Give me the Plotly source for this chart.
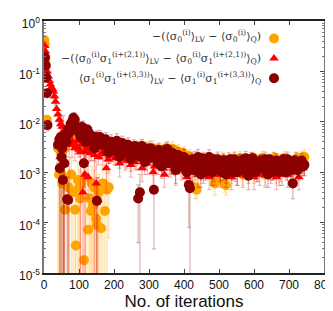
import plotly.graph_objects as go
import numpy as np

# ---------------- data (values in units of 1e-3) ----------------
x_band = list(range(40, 745, 8))
x_band2 = list(range(44, 741, 8))

# <sigma_0> (orange circles)
x_or_early = [1, 2, 4, 8]
y_or_early = [420, 350, 160, 11]
e_or_early = [40, 40, 20, 2]
y_or_band = [3.0, 2.5, 4.0, 3.5, 5.0, 6.0, 5.0, 4.5, 3.5, 4.0,
             3.0, 4.5, 3.8, 4.2, 3.5, 3.8, 3.2, 3.6, 3.0, 3.4,
             2.8, 3.3, 2.6, 3.1, 2.5, 3.0, 2.4, 2.9, 2.3, 2.8,
             3.1, 2.2, 2.9, 2.4, 3.0, 2.0, 2.7, 2.2, 2.6, 2.8,
             2.7, 2.9, 2.2, 2.5, 1.8, 2.3, 1.5, 2.0, 1.2, 0.5,
             1.6, 1.0, 1.8, 1.3, 1.7, 1.1, 0.6, 1.5, 1.2, 1.8,
             0.55, 1.4, 1.0, 1.7, 1.2, 1.9, 0.9, 1.5, 1.2, 1.8,
             1.0, 1.6, 1.3, 1.9, 0.9, 1.5, 1.2, 1.8, 1.0, 1.6,
             1.3, 1.9, 1.1, 1.5, 1.2, 1.8, 1.4, 1.9, 2.0]
e_or_band = [3.2, 1.5, 2.0, 1.5, 2.0, 2.5, 2.0, 1.8, 1.5, 1.6,
             3.5, 1.8, 1.5, 1.7, 1.4, 1.5, 1.3, 1.4, 1.2, 1.3,
             1.1, 1.3, 1.0, 1.2, 1.0, 1.2, 1.0, 1.1, 0.9, 1.1,
             1.2, 0.9, 1.1, 1.0, 1.2, 0.8, 1.0, 0.9, 1.0, 1.1,
             1.0, 1.1, 0.9, 1.0, 0.7, 0.9, 0.6, 0.8, 0.5, 0.2,
             0.6, 0.4, 0.7, 0.5, 0.7, 0.4, 0.25, 0.6, 0.5, 0.7,
             0.2, 0.5, 0.4, 0.7, 0.5, 0.7, 0.35, 0.6, 0.5, 0.7,
             0.4, 0.6, 0.5, 0.7, 0.35, 0.6, 0.5, 0.7, 0.4, 0.6,
             0.5, 0.7, 0.4, 0.6, 0.5, 0.7, 0.5, 0.7, 0.8]
y_or_band2 = [3.5, 4.5, 3.0, 5.5, 6.5, 5.5, 4.0, 5.0, 4.5, 3.6,
              4.0, 3.2, 4.4, 3.6, 4.0, 3.3, 3.8, 2.9, 3.5, 3.1,
              3.4, 2.7, 3.2, 2.6, 3.1, 2.5, 3.0, 2.4, 2.9, 3.0,
              2.6, 3.1, 2.3, 2.9, 2.5, 2.8, 2.1, 2.7, 3.0, 2.5,
              2.8, 2.3, 2.6, 2.0, 2.4, 1.7, 2.1, 1.4, 1.8, 0.45,
              1.3, 1.7, 1.1, 1.5, 1.2, 1.8, 0.7, 1.4, 1.6, 0.6,
              1.5, 1.1, 1.8, 1.3, 1.6, 1.0, 1.7, 1.2, 1.5, 1.9,
              1.1, 1.7, 1.4, 1.8, 1.0, 1.6, 1.3, 1.9, 1.1, 1.7,
              1.4, 1.8, 1.2, 1.6, 1.3, 1.9, 1.5, 2.0]
e_or_band2 = [1.0, 1.2, 0.8, 1.5, 1.7, 1.5, 1.0, 1.3, 1.2, 1.0,
              1.0, 0.8, 1.1, 0.9, 1.0, 0.8, 1.0, 0.7, 0.9, 0.8,
              0.9, 0.7, 0.8, 0.7, 0.8, 0.6, 0.8, 0.6, 0.7, 0.8,
              0.7, 0.8, 0.6, 0.7, 0.6, 0.7, 0.5, 0.7, 0.8, 0.6,
              0.7, 0.6, 0.7, 0.5, 0.6, 0.45, 0.5, 0.4, 0.5, 0.15,
              0.35, 0.45, 0.3, 0.4, 0.3, 0.45, 0.2, 0.35, 0.4, 0.2,
              0.4, 0.3, 0.45, 0.35, 0.4, 0.25, 0.45, 0.3, 0.4, 0.5,
              0.3, 0.45, 0.35, 0.45, 0.25, 0.4, 0.35, 0.5, 0.3, 0.45,
              0.35, 0.45, 0.3, 0.4, 0.35, 0.5, 0.4, 0.5]
x_or_dip = [43, 48, 52, 56, 60, 70, 78, 83, 89, 91, 97, 100, 103, 106, 114, 118,
            126, 131, 134, 137, 140, 143, 149, 151, 157, 163, 168, 174, 180, 185]
y_or_dip = [0.9, 1.0, 0.6, 0.8, 0.18, 0.5, 0.9, 0.4, 0.18, 0.035, 0.7, 0.5, 0.3, 0.6, 0.018, 0.8,
            0.072, 0.3, 0.17, 0.6, 0.22, 0.5, 0.12, 0.09, 0.4, 0.077, 0.6, 0.17, 0.45, 0.5]
e_or_dip = [1.5, 1.2, 0.8, 1.0, 0.5, 0.6, 1.0, 0.5, 0.3, 0.4, 0.9, 0.6, 0.4, 1.0, 0.3, 1.0,
            0.3, 0.5, 0.4, 0.7, 0.4, 0.6, 0.3, 0.3, 0.5, 0.3, 0.7, 0.4, 0.5, 0.45]

# <sigma_0 sigma_1^(2,1)> (red triangles)
x_rd_early = [2, 4, 6, 9, 12, 15, 18, 21, 24, 27, 30, 33, 36]
y_rd_early = [320, 250, 150, 100, 80, 65, 55, 48, 45, 40, 32, 25, 18]
e_rd_early = [30, 25, 15, 10, 8, 6, 6, 5, 5, 4, 4, 4, 4]
y_rd_band = [14, 9.0, 6.5, 4.8, 4.0, 3.5, 3.0, 4.2, 2.5, 3.8,
             3.5, 2.9, 3.0, 2.2, 3.4, 3.2, 2.5, 3.0, 1.8, 2.8,
             2.4, 3.0, 1.5, 2.6, 2.0, 2.8, 1.4, 2.4, 2.0, 2.6,
             1.2, 2.2, 1.7, 2.5, 1.0, 2.0, 1.6, 2.3, 0.9, 1.9,
             1.4, 2.1, 1.0, 1.7, 1.3, 2.0, 0.8, 1.6, 1.2, 1.8,
             0.9, 1.5, 1.1, 1.7, 0.8, 1.4, 1.0, 1.6, 0.9, 1.4,
             1.1, 1.7, 0.8, 1.3, 1.0, 1.6, 0.9, 1.4, 1.1, 1.7,
             0.8, 1.3, 1.0, 1.6, 0.9, 1.4, 1.1, 1.7, 0.8, 1.3,
             1.0, 1.6, 0.9, 1.4, 1.1, 1.7, 0.8, 1.3, 1.5]
e_rd_band = [4.0, 3.0, 7.0, 2.0, 5.0, 1.5, 1.3, 1.8, 3.0, 1.6,
             1.5, 1.3, 1.3, 2.5, 1.5, 1.4, 1.1, 1.3, 0.8, 1.2,
             1.0, 1.3, 0.7, 1.1, 0.9, 1.2, 0.6, 1.0, 0.9, 1.1,
             0.55, 1.0, 0.8, 1.1, 0.45, 0.9, 0.7, 1.0, 0.4, 0.8,
             0.6, 0.9, 0.45, 0.7, 0.6, 0.9, 0.35, 0.7, 0.55, 0.8,
             0.4, 0.65, 0.5, 0.75, 0.35, 0.6, 0.45, 0.7, 0.4, 0.6,
             0.5, 0.75, 0.35, 0.55, 0.45, 0.7, 0.4, 0.6, 0.5, 0.75,
             0.35, 0.55, 0.45, 0.7, 0.4, 0.6, 0.5, 0.75, 0.35, 0.55,
             0.45, 0.7, 0.4, 0.6, 0.5, 0.75, 0.35, 0.55, 0.65]
y_rd_band2 = [11, 8.0, 6.0, 5.0, 4.5, 3.8, 3.2, 2.8, 3.6, 2.6,
              3.3, 2.4, 3.1, 2.7, 2.0, 3.0, 2.3, 2.7, 2.1, 2.9,
              1.9, 2.6, 2.2, 2.8, 1.7, 2.5, 2.1, 1.6, 2.4, 1.9,
              2.3, 1.5, 2.1, 1.8, 1.3, 2.2, 1.7, 1.2, 2.0, 1.5,
              1.8, 1.2, 1.9, 1.4, 1.1, 1.7, 1.3, 1.0, 1.6, 1.2,
              1.7, 1.0, 1.4, 1.2, 1.6, 0.9, 1.3, 1.1, 1.5, 1.0,
              1.4, 1.2, 1.6, 0.9, 1.3, 1.1, 1.5, 1.0, 1.4, 1.2,
              1.6, 0.9, 1.3, 1.1, 1.5, 1.0, 1.4, 1.2, 1.6, 0.9,
              1.3, 1.1, 1.5, 1.0, 1.4, 1.2, 1.6, 1.2]
e_rd_band2 = [3.0, 2.0, 1.5, 1.3, 1.2, 1.0, 0.9, 0.8, 1.0, 0.7,
              0.9, 0.7, 0.8, 0.7, 0.6, 0.8, 0.6, 0.7, 0.6, 0.8,
              0.5, 0.7, 0.6, 0.7, 0.5, 0.7, 0.6, 0.45, 0.6, 0.5,
              0.6, 0.4, 0.55, 0.5, 0.35, 0.6, 0.45, 0.35, 0.5, 0.4,
              0.5, 0.35, 0.5, 0.4, 0.3, 0.45, 0.35, 0.3, 0.45, 0.35,
              0.45, 0.3, 0.4, 0.35, 0.45, 0.25, 0.35, 0.3, 0.4, 0.3,
              0.4, 0.35, 0.45, 0.25, 0.35, 0.3, 0.4, 0.3, 0.4, 0.35,
              0.45, 0.25, 0.35, 0.3, 0.4, 0.3, 0.4, 0.35, 0.45, 0.25,
              0.35, 0.3, 0.4, 0.3, 0.4, 0.35, 0.45, 0.35]
x_rd_dip = [46, 57, 111, 117, 126, 149, 154, 178]
y_rd_dip = [2.0, 1.4, 0.4, 0.9, 0.8, 0.6, 0.28, 1.2]
e_rd_dip = [3.0, 2.0, 0.6, 1.2, 0.5, 1.0, 0.5, 0.8]

# <sigma_1 sigma_1^(3,3)> (dark red circles)
x_dr_early = [3, 5, 6, 8, 10]
y_dr_early = [190, 130, 77, 37, 8.6]
e_dr_early = [20, 12, 8, 4, 2]
y_dr_band = [3.5, 5.0, 4.2, 4.0, 6.0, 10.0, 11.0, 7.0, 5.0, 7.5,
             4.0, 6.0, 4.5, 3.0, 4.8, 5.0, 3.5, 4.5, 2.5, 4.0,
             3.0, 4.2, 2.0, 3.8, 2.8, 3.5, 1.8, 3.2, 2.5, 3.0,
             3.3, 1.6, 2.6, 3.0, 2.0, 2.2, 2.8, 1.3, 2.5, 2.9,
             1.5, 2.4, 1.1, 2.2, 1.6, 2.0, 1.0, 1.4, 1.8, 1.2,
             2.0, 0.9, 1.6, 1.3, 2.0, 1.0, 1.5, 1.8, 1.1, 1.7,
             0.9, 1.5, 1.2, 1.8, 1.0, 1.6, 1.3, 1.9, 0.85, 1.5,
             1.7, 1.1, 1.6, 1.3, 1.8, 0.9, 1.5, 1.2, 1.7, 1.0,
             1.6, 1.3, 1.8, 1.1, 1.4, 1.5, 1.2, 1.7, 1.4]
e_dr_band = [2.0, 2.5, 2.0, 2.0, 2.5, 3.5, 4.0, 2.5, 2.0, 2.8,
             1.6, 2.2, 1.7, 1.3, 1.8, 1.8, 1.4, 1.6, 1.0, 1.5,
             1.2, 1.6, 0.8, 1.4, 1.1, 1.3, 0.75, 1.2, 1.0, 1.1,
             1.2, 0.7, 1.0, 1.1, 0.8, 0.9, 1.0, 0.55, 0.95, 1.1,
             0.6, 0.9, 0.5, 0.85, 0.6, 0.8, 0.45, 0.6, 0.7, 0.5,
             0.8, 0.4, 0.6, 0.5, 0.8, 0.45, 0.6, 0.7, 0.45, 0.65,
             0.4, 0.6, 0.5, 0.7, 0.45, 0.6, 0.5, 0.7, 0.4, 0.6,
             0.65, 0.45, 0.6, 0.5, 0.7, 0.4, 0.6, 0.5, 0.65, 0.45,
             0.6, 0.5, 0.7, 0.45, 0.55, 0.6, 0.5, 0.65, 0.55]
y_dr_band2 = [4.5, 3.0, 5.5, 7.0, 9.0, 12.0, 8.0, 6.0, 8.0, 6.5,
              7.0, 5.5, 4.0, 5.0, 4.2, 4.5, 3.8, 4.0, 3.2, 3.6,
              2.6, 3.8, 3.2, 2.4, 3.4, 2.9, 2.2, 3.3, 2.7, 2.0,
              3.0, 2.4, 1.9, 2.8, 2.2, 1.6, 2.5, 2.0, 1.5, 2.3,
              1.8, 2.1, 1.5, 2.0, 1.3, 1.8, 1.4, 1.6, 1.1, 1.7,
              1.4, 1.9, 1.0, 1.6, 1.3, 1.8, 1.2, 1.5, 1.0, 1.7,
              1.3, 1.8, 1.0, 1.5, 1.2, 1.7, 1.1, 1.6, 1.3, 1.9,
              1.0, 1.4, 1.7, 1.2, 1.5, 1.8, 1.0, 1.4, 1.6, 1.2,
              1.8, 1.0, 1.5, 1.3, 1.7, 1.1, 1.6, 1.3]
e_dr_band2 = [1.2, 0.8, 1.4, 1.8, 2.2, 3.0, 2.0, 1.5, 2.0, 1.6,
              1.8, 1.4, 1.0, 1.3, 1.1, 1.1, 1.0, 1.0, 0.8, 0.9,
              0.7, 1.0, 0.8, 0.6, 0.9, 0.7, 0.6, 0.8, 0.7, 0.5,
              0.8, 0.6, 0.5, 0.7, 0.6, 0.4, 0.6, 0.5, 0.4, 0.6,
              0.45, 0.5, 0.4, 0.5, 0.35, 0.45, 0.35, 0.4, 0.3, 0.45,
              0.35, 0.5, 0.3, 0.4, 0.35, 0.45, 0.3, 0.4, 0.3, 0.45,
              0.35, 0.45, 0.3, 0.4, 0.3, 0.45, 0.3, 0.4, 0.35, 0.5,
              0.3, 0.35, 0.45, 0.3, 0.4, 0.45, 0.3, 0.35, 0.4, 0.3,
              0.45, 0.3, 0.4, 0.35, 0.45, 0.3, 0.4, 0.35]
x_dr_dip = [45, 50, 54, 58, 66, 69, 114, 151, 269, 274, 314, 414, 417, 711]
y_dr_dip = [1.2, 2.0, 0.7, 1.5, 0.29, 0.28, 1.5, 0.27, 0.30, 0.40, 0.45, 0.56, 0.48, 0.60]
e_dr_dip = [2.0, 2.5, 1.2, 1.8, 0.5, 0.4, 1.0, 0.5, 0.26, 0.5, 0.42, 0.48, 0.5, 0.3]

y_tick_vals = [1e-5, 1e-4, 1e-3, 1e-2, 1e-1, 1]
y_tick_text = ["10<sup>-5</sup>", "10<sup>-4</sup>", "10<sup>-3</sup>",
               "10<sup>-2</sup>", "10<sup>-1</sup>", "10<sup>0</sup>"]
x_tick_vals = [0, 100, 200, 300, 400, 500, 600, 700, 800]

legend_texts = [
    "−(⟨σ<sub>0</sub><sup>(i)</sup>⟩<sub>LV</sub> − ⟨σ<sub>0</sub><sup>(i)</sup>⟩<sub>Q</sub>)",
    "−(⟨σ<sub>0</sub><sup>(i)</sup>σ<sub>1</sub><sup>(i+(2,1))</sup>⟩<sub>LV</sub> − "
    "⟨σ<sub>0</sub><sup>(i)</sup>σ<sub>1</sub><sup>(i+(2,1))</sup>⟩<sub>Q</sub>)",
    "⟨σ<sub>1</sub><sup>(i)</sup>σ<sub>1</sub><sup>(i+(3,3))</sup>⟩<sub>LV</sub> − "
    "⟨σ<sub>1</sub><sup>(i)</sup>σ<sub>1</sub><sup>(i+(3,3))</sup>⟩<sub>Q</sub>",
]

# ---------------- figure ----------------
def series(xe, ye, ee, yb, eb, yb2, eb2, xd, yd, ed):
    x = list(xe) + list(x_band) + list(x_band2) + list(xd)
    y = np.array(list(ye) + list(yb) + list(yb2) + list(yd)) * 1e-3
    e = np.array(list(ee) + list(eb) + list(eb2) + list(ed)) * 1e-3
    n = min(len(x), len(y), len(e))
    return x[:n], y[:n], e[:n]

specs = [
    (series(x_or_early, y_or_early, e_or_early, y_or_band, e_or_band,
            y_or_band2, e_or_band2, x_or_dip, y_or_dip, e_or_dip),
     "#FFA500", "rgba(255,165,0,0.35)", "circle", 10),
    (series(x_rd_early, y_rd_early, e_rd_early, y_rd_band, e_rd_band,
            y_rd_band2, e_rd_band2, x_rd_dip, y_rd_dip, e_rd_dip),
     "#FF0000", "rgba(255,0,0,0.3)", "triangle-up", 8.5),
    (series(x_dr_early, y_dr_early, e_dr_early, y_dr_band, e_dr_band,
            y_dr_band2, e_dr_band2, x_dr_dip, y_dr_dip, e_dr_dip),
     "#8B0000", "rgba(139,0,0,0.3)", "circle", 10),
]

fig = go.Figure()
for (x, y, e), col, ecol, sym, sz in specs:
    fig.add_trace(go.Scatter(
        x=x, y=y, mode="markers", name=" ",
        marker=dict(color=col, symbol=sym, size=sz, line=dict(width=0)),
        error_y=dict(type="data", array=e, color=ecol, thickness=1.2, width=2),
    ))

for i, t in enumerate(legend_texts):
    fig.add_annotation(xref="paper", yref="paper", x=0.782, y=[0.94, 0.853, 0.772][i],
                       text=t, showarrow=False, xanchor="right", yanchor="middle",
                       font=dict(family="DejaVu Serif", size=11, color="#333"))

minor_y = [k * 10.0 ** p for p in range(-5, 0) for k in range(2, 10)]

fig.update_layout(
    width=333, height=311,
    margin=dict(l=36, r=17, t=13, b=46),
    paper_bgcolor="white", plot_bgcolor="white",
    showlegend=True,
    legend=dict(x=0.75, y=0.99, xanchor="left", yanchor="top",
                bgcolor="rgba(0,0,0,0)", font=dict(size=13), itemwidth=30,
                tracegroupgap=0),
    font=dict(family="Liberation Sans, Arial", color="#111"),
)
fig.update_xaxes(
    range=[0, 800], tickvals=x_tick_vals, ticks="inside", ticklen=4,
    showline=True, linecolor="#222", linewidth=1.5, mirror="ticks",
    showgrid=False, zeroline=False, tickfont=dict(size=12), automargin=False,
    title=dict(text="No. of iterations", font=dict(size=17), standoff=1),
)
fig.update_yaxes(
    type="log", range=[-5, 0], tickvals=y_tick_vals, ticktext=y_tick_text,
    ticks="inside", ticklen=4, showline=True, linecolor="#777", linewidth=1.5,
    mirror="ticks", showgrid=False, zeroline=False, tickfont=dict(size=12),
    automargin=False, ticklabelshift=3,
    minor=dict(tickvals=minor_y, ticks="inside", ticklen=2, tickcolor="#777", showgrid=False),
)

fig.write_html("out.html")
